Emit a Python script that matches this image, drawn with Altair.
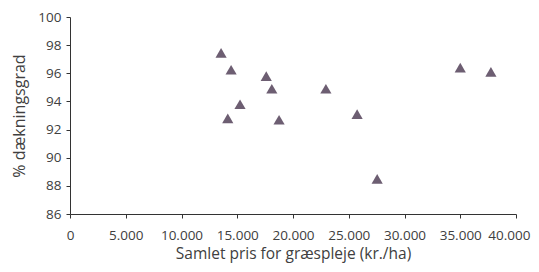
import altair as alt
import pandas as pd

price = [13550, 14450, 14150, 15250, 17600, 18100, 18750, 22950, 25750, 27550, 35000, 37750]
cover = [97.45, 96.25, 92.8, 93.8, 95.8, 94.9, 92.7, 94.9, 93.1, 88.5, 96.4, 96.1]

df = pd.DataFrame({"price": price, "cover": cover})

x_ticks = [0, 5000, 10000, 15000, 20000, 25000, 30000, 35000, 40000]
y_ticks = [86, 88, 90, 92, 94, 96, 98, 100]

font = "Open Sans"

chart = alt.Chart(df).mark_point(
    shape="triangle-up", filled=True, size=125, color="#6d5e72", opacity=1
).encode(
    x=alt.X("price:Q", scale=alt.Scale(domain=[0, 40000], nice=False),
            axis=alt.Axis(title="Samlet pris for græspleje (kr./ha)", values=x_ticks,
                          labelExpr="replace(format(datum.value, ','), ',', '.')",
                          labelOverlap=False, labelFlush=False,
                          labelAlign={"condition": {"test": "datum.value == 40000", "value": "right"}, "value": "center"},
                          labelOffset={"condition": {"test": "datum.value == 40000", "value": 14}, "value": 0},
                          grid=False, tickSize=4, labelPadding=10, titlePadding=5,
                          titleFontSize=15.5)),
    y=alt.Y("cover:Q", scale=alt.Scale(domain=[86, 100], nice=False, zero=False),
            axis=alt.Axis(title="% dækningsgrad", values=y_ticks, grid=False,
                          labelOverlap=False, labelFlush=False,
                          tickSize=4, labelPadding=5, titlePadding=10,
                          titleFontSize=16)),
).properties(
    width=446, height=197,
    autosize="none",
    padding={"left": 62, "top": 9, "right": 15, "bottom": 50},
).configure_axis(
    domainColor="#333333", tickColor="#333333",
    labelColor="#404040", titleColor="#404040",
    labelFont=font, titleFont=font,
    labelFontSize=13.5, titleFontWeight="normal",
).configure_view(stroke=None)

chart.save("out.html", embed_options={"renderer": "svg", "actions": False})
